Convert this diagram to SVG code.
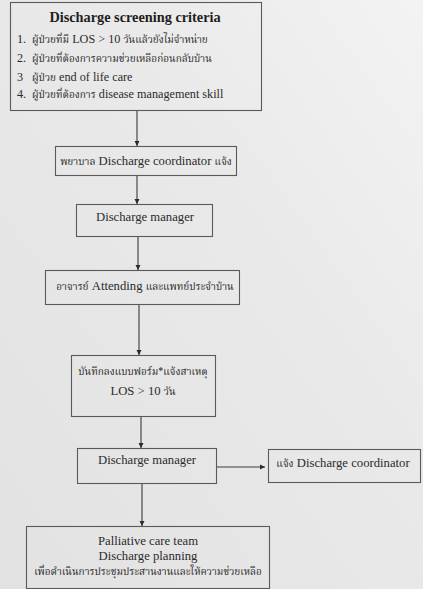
<svg xmlns="http://www.w3.org/2000/svg" width="423" height="589" viewBox="0 0 423 589">
<style>
  .box { fill: none; stroke: #5a5a5a; stroke-width: 1.1; }
  text { font-family: "Liberation Serif", "Times New Roman", serif; fill: #2b2b2b; }
  .t { font-size: 12.7px; text-anchor: middle; }
  .li { font-size: 12.2px; }
  .th { font-family: "Noto Serif Thai", "Noto Sans Thai", "Loma", "Garuda", "Liberation Serif", serif; font-size: 10px; }
  .title { font-size: 14.3px; font-weight: bold; text-anchor: middle; fill: #1e1e1e; }
  .conn { stroke: #3a3a3a; stroke-width: 1.1; fill: none; marker-end: url(#ah); }
</style>
<defs>
  <marker id="ah" viewBox="0 0 10 10" refX="10" refY="5" markerWidth="5.5" markerHeight="5.5" markerUnits="userSpaceOnUse" orient="auto">
    <path d="M0,0 L10,5 L0,10 z" fill="#2a2a2a"/>
  </marker>
  <linearGradient id="bgg" x1="0" y1="1" x2="1" y2="0">
    <stop offset="0" stop-color="#e2e2e2"/>
    <stop offset="0.6" stop-color="#e9e9e9"/>
    <stop offset="1" stop-color="#f3f3f3"/>
  </linearGradient>
</defs>
<rect x="0" y="0" width="423" height="589" fill="url(#bgg)"/>

<g id="screening">
  <rect class="box" x="10.5" y="2.5" width="251" height="108"/>
  <text class="title" x="135" y="22">Discharge screening criteria</text>
  <text class="li" x="17" y="42.5">1.<tspan x="32" class="th">ผู้ป่วยที่มี</tspan> LOS &gt; 10 <tspan class="th">วันแล้วยังไม่จำหน่าย</tspan></text>
  <text class="li" x="17" y="61.5">2.<tspan x="32" class="th">ผู้ป่วยที่ต้องการความช่วยเหลือก่อนกลับบ้าน</tspan></text>
  <text class="li" x="17" y="80.5">3<tspan x="32" class="th">ผู้ป่วย</tspan> end of life care</text>
  <text class="li" x="17" y="98">4.<tspan x="32" class="th">ผู้ป่วยที่ต้องการ</tspan> disease management skill</text>
</g>

<g id="coordinator">
  <rect class="box" x="55.5" y="146.5" width="181" height="29"/>
  <text class="t" x="146" y="165"><tspan class="th">พยาบาล</tspan> Discharge coordinator <tspan class="th">แจ้ง</tspan></text>
</g>

<g id="manager1">
  <rect class="box" x="76.5" y="204.5" width="136" height="32"/>
  <text class="t" x="145" y="221">Discharge manager</text>
</g>

<g id="attending">
  <rect class="box" x="45.5" y="270.5" width="194" height="34"/>
  <text class="t" x="145" y="290"><tspan class="th">อาจารย์</tspan> Attending <tspan class="th">และแพทย์ประจำบ้าน</tspan></text>
</g>

<g id="record">
  <rect class="box" x="71.5" y="355.5" width="144" height="61"/>
  <text class="t" x="143" y="375"><tspan class="th">บันทึกลงแบบฟอร์ม*แจ้งสาเหตุ</tspan></text>
  <text class="t" x="143" y="395">LOS &gt; 10 <tspan class="th">วัน</tspan></text>
</g>

<g id="manager2">
  <rect class="box" x="77.5" y="448.5" width="139" height="35"/>
  <text class="t" x="147" y="464">Discharge manager</text>
</g>

<g id="notify">
  <rect class="box" x="268.5" y="449.5" width="152" height="33"/>
  <text class="t" x="343" y="467"><tspan class="th">แจ้ง</tspan> Discharge coordinator</text>
</g>

<g id="palliative">
  <rect class="box" x="26.5" y="526.5" width="243" height="62"/>
  <text class="t" x="148" y="545">Palliative care team</text>
  <text class="t" x="148" y="560">Discharge planning</text>
  <text class="t" x="148" y="575"><tspan class="th">เพื่อดำเนินการประชุมประสานงานและให้ความช่วยเหลือ</tspan></text>
</g>

<g id="connectors">
  <line class="conn" x1="137" y1="111" x2="137" y2="146"/>
  <line class="conn" x1="137" y1="176" x2="137" y2="204"/>
  <line class="conn" x1="138" y1="237" x2="138" y2="270"/>
  <line class="conn" x1="139" y1="305" x2="139" y2="355"/>
  <line class="conn" x1="141" y1="417" x2="141" y2="448"/>
  <line class="conn" x1="217" y1="467" x2="265" y2="467"/>
  <line class="conn" x1="142" y1="484" x2="142" y2="526"/>
</g>
</svg>
